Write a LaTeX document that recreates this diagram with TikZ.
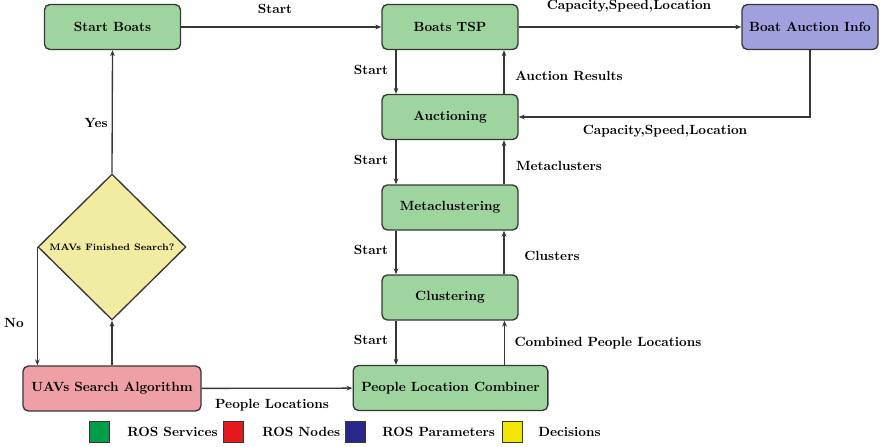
\documentclass[tikz,border=0pt]{standalone}
\usetikzlibrary{shapes.geometric,arrows.meta}
\definecolor{svcfill}{RGB}{158,212,158}
\definecolor{nodefill}{RGB}{238,160,166}
\definecolor{paramfill}{RGB}{160,160,222}
\definecolor{decfill}{RGB}{240,236,162}
\definecolor{boxline}{RGB}{55,55,55}
\definecolor{legsvc}{RGB}{0,158,72}
\definecolor{legnode}{RGB}{228,24,30}
\definecolor{legparam}{RGB}{40,40,140}
\definecolor{legdec}{RGB}{242,230,0}
\begin{document}
\begin{tikzpicture}[x=0.75pt,y=-0.75pt,font=\bfseries,
  box/.style={draw=boxline,line width=1pt,rounded corners=4pt,
    minimum width=102pt,minimum height=33.75pt,inner sep=2pt},
  service/.style={box,fill=svcfill},
  rosnode/.style={box,fill=nodefill},
  param/.style={box,fill=paramfill},
  decision/.style={draw=boxline,line width=1pt,fill=decfill,shape=diamond,
    minimum width=111pt,minimum height=109.5pt,inner sep=0pt,font=\scriptsize\bfseries},
  flow/.style={draw=boxline,line width=1pt,-{Stealth[length=4.5pt,width=3.5pt]}},
  lbl/.style={inner sep=0pt},
  legbox/.style={draw=boxline,line width=0.7pt,minimum width=15pt,minimum height=15.75pt,inner sep=0pt}]
\useasboundingbox (0,0) rectangle (880,446);

% nodes
\node[service] (start) at (112.5,27) {Start Boats};
\node[service] (tsp) at (450,27) {Boats TSP};
\node[param] (info) at (810,27) {Boat Auction Info};
\node[service] (auct) at (450,117) {Auctioning};
\node[service] (meta) at (450,207.5) {Metaclustering};
\node[service] (clus) at (450,297.5) {Clustering};
\node[service,minimum width=146pt] (plc) at (450.5,388) {People Location Combiner};
\node[rosnode,minimum width=133.5pt] (uav) at (112,388.5) {UAVs Search Algorithm};
\node[decision] (dec) at (112,247) {MAVs Finished Search?};

% corner of the feedback link from the parameter store
\coordinate (infoturn) at (info.south |- auct.east);

% connectors
\draw[flow] (start) -- (tsp);
\draw[flow] (tsp) -- (info);
\draw[flow] (info.south) -- (infoturn) -- (auct.east);

\foreach \up/\down in {tsp/auct,auct/meta,meta/clus,clus/plc}{
  \draw[flow] ([xshift=-54*0.75pt]\up.south) -- ([xshift=-54*0.75pt]\up.south |- \down.north);
  \draw[flow] ([xshift=54*0.75pt]\down.north) -- ([xshift=54*0.75pt]\down.north |- \up.south);
}

\draw[flow] (uav) -- (plc);
\draw[flow] (uav.north) -- (dec.south);
\draw[flow] (dec.north) -- (start.south);
\draw[flow] (dec.west) -- (dec.west |- uav.north);

% connector labels
\node[lbl] at (275,9) {Start};
\node[lbl] at (629,6) {Capacity,Speed,Location};
\node[lbl] at (665,131) {Capacity,Speed,Location};
\node[lbl] at (569,76) {Auction Results};
\node[lbl] at (559,166) {Metaclusters};
\node[lbl] at (552,256) {Clusters};
\node[lbl] at (608,343) {Combined People Locations};
\foreach \y in {70,160,250,340}{\node[lbl] at (371,\y) {Start};}
\node[lbl] at (96,123) {Yes};
\node[lbl] at (14,323) {No};
\node[lbl] at (272,405) {People Locations};

% legend
\node[legbox,fill=legsvc] (lsvc) at (99,432) {};
\node[lbl,anchor=west] (tsvc) at (127,432) {ROS Services};
\node[legbox,fill=legnode] (lnode) at (233.5,432) {};
\node[lbl,anchor=west] (tnode) at (262,432) {ROS Nodes};
\node[legbox,fill=legparam] (lparam) at (355,432) {};
\node[lbl,anchor=west] (tparam) at (382,432) {ROS Parameters};
\node[legbox,fill=legdec] (ldec) at (512,432) {};
\node[lbl,anchor=west] (tdec) at (538,432) {Decisions};
\end{tikzpicture}
\end{document}
